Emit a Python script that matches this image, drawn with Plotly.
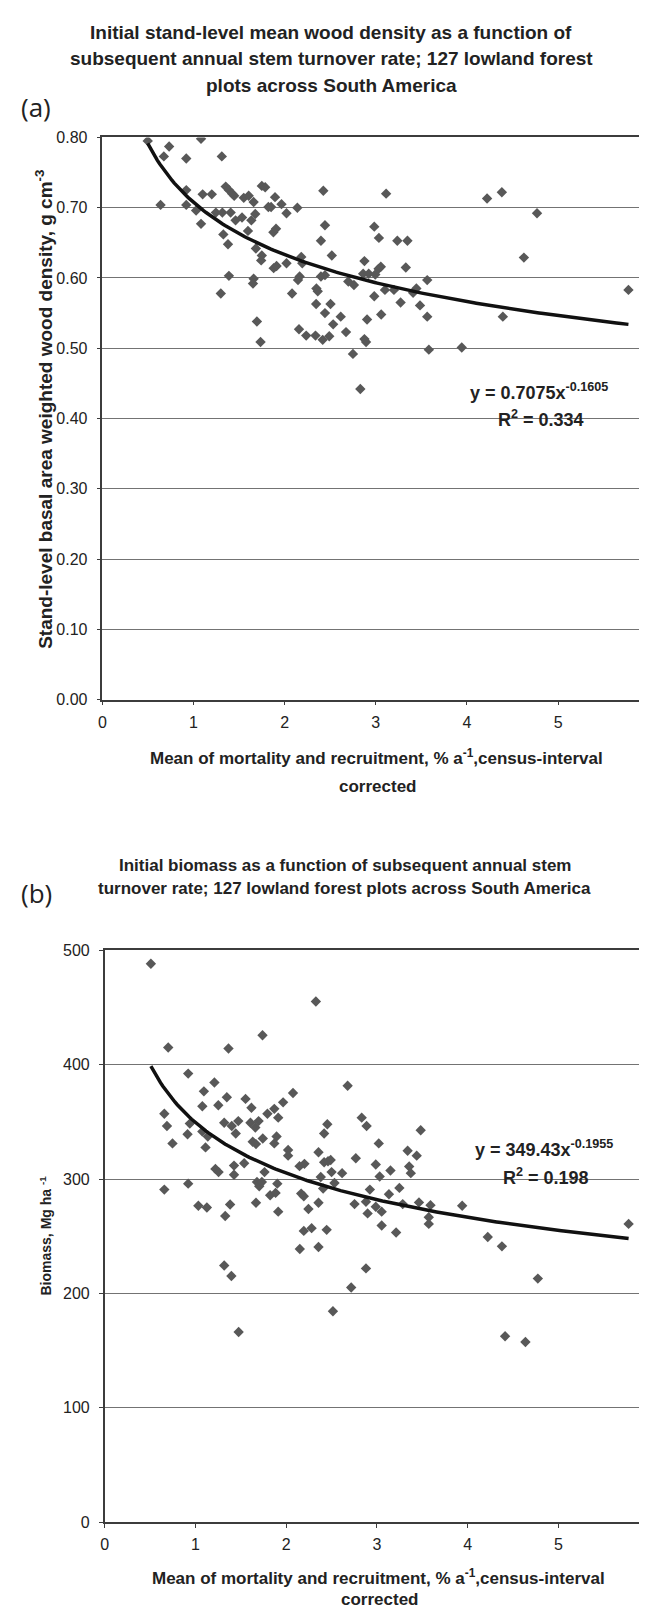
import numpy as np
import plotly.graph_objects as go

# ---------------- Panel (a): wood density vs turnover ----------------
turnover_a = [0.497, 0.674, 0.732, 1.082, 0.638, 0.920, 0.920, 0.920, 1.028, 1.082,
              1.100, 1.200, 1.310, 1.245, 1.316, 1.327, 1.378, 1.353, 1.388, 1.424,
              1.446, 1.407, 1.461, 1.532, 1.551, 1.605, 1.659, 1.677, 1.634, 1.597,
              1.749, 1.786, 1.821, 1.894, 1.851, 1.965, 2.020, 2.139, 1.876, 1.905,
              1.684, 1.749, 1.742, 1.388, 1.299, 1.659, 1.652, 1.695, 1.735, 1.879,
              1.911, 2.020, 2.182, 2.193, 2.164, 2.146, 2.081, 2.157, 2.236, 2.338,
              2.417, 2.489, 2.348, 2.363, 2.345, 2.442, 2.503, 2.532, 2.615, 2.673,
              2.749, 2.424, 2.442, 2.398, 2.517, 2.398, 2.442, 2.698, 2.760, 2.875,
              2.861, 2.922, 2.983, 3.034, 2.983, 3.059, 2.904, 2.875, 2.893, 3.113,
              3.030, 3.100, 2.994, 3.055, 4.221, 4.383, 4.769, 4.625, 4.394, 5.772,
              3.943, 3.582, 3.564, 3.564, 3.485, 3.445, 3.409, 3.329, 3.347, 3.236,
              3.272, 3.199, 2.830]
density_a = [0.795, 0.773, 0.787, 0.798, 0.704, 0.770, 0.725, 0.704, 0.696, 0.677,
             0.719, 0.719, 0.773, 0.693, 0.693, 0.662, 0.648, 0.730, 0.725, 0.720,
             0.717, 0.693, 0.682, 0.686, 0.714, 0.717, 0.708, 0.691, 0.682, 0.667,
             0.731, 0.729, 0.701, 0.715, 0.701, 0.705, 0.692, 0.700, 0.665, 0.670,
             0.642, 0.632, 0.625, 0.603, 0.578, 0.599, 0.592, 0.538, 0.509, 0.614,
             0.617, 0.621, 0.630, 0.621, 0.602, 0.597, 0.578, 0.527, 0.518, 0.518,
             0.512, 0.517, 0.585, 0.581, 0.563, 0.550, 0.563, 0.534, 0.545, 0.523,
             0.492, 0.724, 0.675, 0.653, 0.632, 0.602, 0.604, 0.595, 0.590, 0.624,
             0.606, 0.606, 0.673, 0.657, 0.574, 0.548, 0.541, 0.513, 0.509, 0.720,
             0.613, 0.583, 0.605, 0.616, 0.713, 0.722, 0.692, 0.629, 0.545, 0.583,
             0.501, 0.498, 0.545, 0.597, 0.561, 0.585, 0.579, 0.615, 0.653, 0.653,
             0.565, 0.583, 0.442]

# ---------------- Panel (b): biomass vs turnover ----------------
turnover_b = [0.509, 0.700, 1.364, 1.739, 2.327, 0.920, 1.209, 1.093, 1.076, 1.252,
              1.346, 1.552, 1.617, 1.793, 1.869, 1.966, 2.075, 1.912, 2.677, 2.832,
              0.657, 0.686, 0.747, 0.657, 0.913, 0.938, 1.076, 1.136, 1.111, 1.220,
              1.255, 0.920, 1.032, 1.126, 1.328, 1.382, 1.317, 1.396, 1.476, 1.317,
              1.400, 1.472, 1.444, 1.425, 1.425, 1.537, 1.606, 1.660, 1.696, 1.631,
              1.667, 1.742, 1.894, 1.869, 2.021, 2.021, 1.761, 1.678, 1.703, 1.732,
              1.902, 1.823, 1.883, 1.667, 1.912, 2.147, 2.201, 2.165, 2.194, 2.245,
              2.194, 2.280, 2.150, 2.356, 2.446, 2.356, 2.356, 2.381, 2.407, 2.418,
              2.461, 2.490, 2.500, 2.532, 2.418, 2.453, 2.515, 2.616, 2.716, 2.753,
              2.767, 2.886, 2.879, 2.922, 2.879, 2.897, 2.987, 3.020, 3.030, 2.987,
              3.052, 3.052, 3.482, 3.338, 3.438, 3.355, 3.373, 3.149, 3.247, 3.132,
              3.284, 3.463, 3.590, 3.571, 3.571, 3.211, 3.939, 4.221, 4.377, 4.773,
              5.773, 4.412, 4.636]
biomass_b = [488.2, 415.0, 414.2, 425.7, 455.3, 392.2, 384.5, 376.7, 363.7, 364.5,
             371.5, 370.1, 362.3, 357.1, 361.4, 367.1, 375.3, 353.7, 381.6, 353.7,
             357.1, 346.4, 331.2, 290.8, 339.2, 348.5, 341.5, 337.2, 327.7, 308.9,
             306.1, 296.0, 276.7, 275.2, 267.7, 277.8, 224.5, 215.3, 166.3, 349.3,
             346.4, 350.7, 339.8, 311.8, 303.8, 313.9, 349.3, 345.0, 350.7, 332.6,
             330.6, 335.5, 337.2, 331.2, 325.4, 320.5, 306.1, 297.4, 293.7, 297.4,
             296.0, 285.9, 287.9, 279.3, 271.5, 311.3, 313.3, 287.3, 285.0, 273.8,
             254.7, 257.1, 238.9, 240.6, 255.6, 279.3, 323.4, 301.8, 291.7, 314.7,
             315.6, 316.7, 306.1, 296.6, 339.8, 347.9, 184.4, 305.2, 205.2, 278.1,
             318.2, 346.4, 221.9, 290.8, 280.2, 270.0, 312.7, 331.2, 302.3, 275.8,
             271.5, 259.4, 342.7, 324.8, 320.5, 311.0, 305.2, 307.5, 292.3, 286.7,
             278.1, 279.6, 277.2, 266.6, 260.8, 253.3, 276.7, 249.3, 241.2, 213.0,
             260.8, 162.6, 157.6]

# power-law trendline coefficients (y = a * x^b), as printed on the chart
fit_a = (0.7075, -0.1605)
fit_b = (349.43, -0.1955)
r2_a = "0.334"
r2_b = "0.198"

x_ticks = [0, 1, 2, 3, 4, 5, 6]

W, H = 647, 1608
SANS = "Liberation Sans, Arial, sans-serif"
TXT = "#222222"
AXC = "#3c3c3c"
GRID = "#737373"
MARK = "#585858"


def fx(p):
    return p / W


def fy(p):
    return 1 - p / H


def trend(xs, coef):
    xx = np.linspace(min(xs), max(xs), 200)
    return xx, coef[0] * xx ** coef[1]


fig = go.Figure()
fig.add_trace(go.Scatter(x=turnover_a, y=density_a, mode="markers",
                         marker=dict(symbol="diamond", size=8, color=MARK),
                         xaxis="x", yaxis="y", showlegend=False))
tx, ty = trend(turnover_a, fit_a)
fig.add_trace(go.Scatter(x=tx, y=ty, mode="lines", line=dict(color="#111111", width=3.5),
                         xaxis="x", yaxis="y", showlegend=False))
fig.add_trace(go.Scatter(x=turnover_b, y=biomass_b, mode="markers",
                         marker=dict(symbol="diamond", size=8, color=MARK),
                         xaxis="x2", yaxis="y2", showlegend=False))
tx, ty = trend(turnover_b, fit_b)
fig.add_trace(go.Scatter(x=tx, y=ty, mode="lines", line=dict(color="#111111", width=3.5),
                         xaxis="x2", yaxis="y2", showlegend=False))

xcommon = dict(range=[0, 6], tickvals=x_ticks, showgrid=False, zeroline=False,
               showline=True, linecolor=AXC, linewidth=1.5, mirror=True,
               ticks="outside", ticklen=4, tickcolor=AXC, ticklabeloverflow="allow",
               tickfont=dict(family=SANS, size=16, color=TXT), ticklabelstandoff=3)
ycommon = dict(showgrid=True, gridcolor=GRID, gridwidth=1, zeroline=False,
               showline=True, linecolor=AXC, linewidth=1.5, mirror=True,
               ticks="outside", ticklen=4, tickcolor=AXC,
               tickfont=dict(family=SANS, size=16, color=TXT), ticklabelstandoff=6)

fig.update_layout(
    width=W, height=H, margin=dict(l=0, r=0, t=0, b=0),
    paper_bgcolor="white", plot_bgcolor="white",
    xaxis=dict(domain=[fx(91.7), fx(646.2)], anchor="y", **xcommon),
    yaxis=dict(domain=[fy(691), fy(122.7)], anchor="x", range=[0, 0.8], dtick=0.1,
               tickformat=".2f", **ycommon),
    xaxis2=dict(domain=[fx(94), fx(646.2)], anchor="y2", **xcommon),
    yaxis2=dict(domain=[fy(1522.3), fy(944.3)], anchor="x2", range=[0, 500], dtick=100,
                **ycommon),
)


def ann(text, x, y, size, bold=True, angle=0, family=SANS):
    fig.add_annotation(text=("<b>%s</b>" % text) if bold else text,
                       x=fx(x), y=fy(y), xref="paper", yref="paper",
                       xanchor="center", yanchor="middle", showarrow=False,
                       textangle=angle, font=dict(family=family, size=size, color=TXT))


# Panel (a) texts
ann("Initial stand-level mean wood density as a function of", 323.5, 16.7, 19)
ann("subsequent annual stem turnover rate; 127 lowland forest", 323.5, 43.3, 19)
ann("plots across South America", 323.5, 70.7, 19)
ann("(a)", 24.5, 92, 26, bold=False, family="Open Sans, Liberation Sans, sans-serif")
ann("Stand-level basal area weighted wood density, g cm<sup>-3</sup>", 32.5, 398, 19, angle=-90)
ann("Mean of mortality and recruitment, % a<sup>-1</sup>,census-interval", 370, 749, 17)
ann("corrected", 370.5, 779, 17)
ann("y = %.4fx<sup>%.4f</sup>" % fit_a, 534, 380, 18)
ann("R<sup>2</sup> = %s" % r2_a, 536, 406.5, 18)

# Panel (b) texts
ann("Initial biomass as a function of subsequent annual stem", 337.5, 858.3, 17)
ann("turnover rate; 127 lowland forest plots across South America", 337.5, 881.7, 17)
ann("(b)", 24.5, 886, 26, bold=False, family="Open Sans, Liberation Sans, sans-serif")
ann("Biomass, Mg ha <sup>-1</sup>", 34, 1233, 14, angle=-90)
ann("Mean of mortality and recruitment, % a<sup>-1</sup>,census-interval", 372, 1577.3, 17)
ann("corrected", 372.5, 1600, 17)
ann("y = %.2fx<sup>%.4f</sup>" % fit_b, 540, 1145, 18)
ann("R<sup>2</sup> = %s" % r2_b, 542, 1172.7, 18)

fig.write_html("out.html")
